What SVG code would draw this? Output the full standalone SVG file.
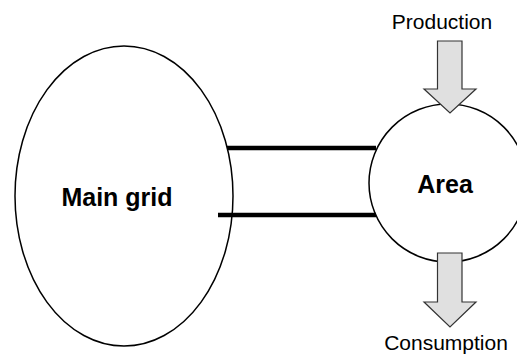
<svg xmlns="http://www.w3.org/2000/svg" width="517" height="356" viewBox="0 0 517 356">
<style>
.shape{fill:#fff;stroke:#000;stroke-width:1.5}
.arrow{fill:#e0e0e0;stroke:#333;stroke-width:1.2;stroke-linejoin:miter}
.line{stroke:#000;stroke-width:4.5;fill:none}
.bold{font-family:"Liberation Sans",Arial,sans-serif;font-weight:bold;font-size:25px;fill:#000;text-anchor:middle}
.reg{font-family:"Liberation Sans",Arial,sans-serif;font-size:21px;fill:#000;text-anchor:middle}
</style>
<rect width="517" height="356" fill="#fff"/>
<g id="main-grid">
<ellipse class="shape" cx="124" cy="196" rx="109" ry="150"/>
<text class="bold" x="117" y="206">Main grid</text>
</g>
<g id="area">
<circle class="shape" cx="448" cy="183" r="79"/>
<text class="bold" x="445" y="193">Area</text>
</g>
<g id="connectors">
<line class="line" x1="227" y1="148" x2="376" y2="148"/>
<line class="line" x1="218" y1="215" x2="376" y2="215"/>
</g>
<g id="production">
<text class="reg" x="442" y="29">Production</text>
<polygon class="arrow" points="437.5,41 462,41 462,89 476,89 450,113 424,89 437.5,89"/>
</g>
<g id="consumption">
<polygon class="arrow" points="437.5,253 462,253 462,302 476,302 450,327 424,302 437.5,302"/>
<text class="reg" x="446" y="350">Consumption</text>
</g>
</svg>
